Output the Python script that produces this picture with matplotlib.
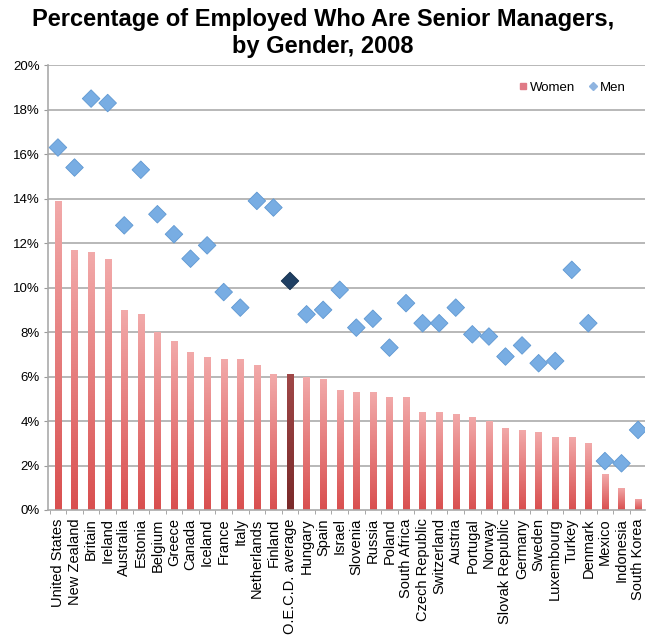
import numpy as np
import matplotlib
matplotlib.use('Agg')
import matplotlib.pyplot as plt
from matplotlib.ticker import FuncFormatter
from matplotlib.lines import Line2D

plt.rcParams['font.family'] = ['Liberation Sans', 'DejaVu Sans']

countries = ['United States', 'New Zealand', 'Britain', 'Ireland', 'Australia',
             'Estonia', 'Belgium', 'Greece', 'Canada', 'Iceland', 'France',
             'Italy', 'Netherlands', 'Finland', 'O.E.C.D. average', 'Hungary',
             'Spain', 'Israel', 'Slovenia', 'Russia', 'Poland', 'South Africa',
             'Czech Republic', 'Switzerland', 'Austria', 'Portugal', 'Norway',
             'Slovak Republic', 'Germany', 'Sweden', 'Luxembourg', 'Turkey',
             'Denmark', 'Mexico', 'Indonesia', 'South Korea']
women = [13.9, 11.7, 11.6, 11.3, 9.0, 8.8, 8.0, 7.6, 7.1, 6.9, 6.8,
         6.8, 6.5, 6.1, 6.1, 6.0,
         5.9, 5.4, 5.3, 5.3, 5.1, 5.1,
         4.4, 4.4, 4.3, 4.2, 4.0,
         3.7, 3.6, 3.5, 3.3, 3.3,
         3.0, 1.6, 1.0, 0.5]
men = [16.3, 15.4, 18.5, 18.3, 12.8, 15.3, 13.3, 12.4, 11.3, 11.9, 9.8,
       9.1, 13.9, 13.6, 10.3, 8.8,
       9.0, 9.9, 8.2, 8.6, 7.3, 9.3,
       8.4, 8.4, 9.1, 7.9, 7.8,
       6.9, 7.4, 6.6, 6.7, 10.8,
       8.4, 2.2, 2.1, 3.6]
highlight = 'O.E.C.D. average'

x = np.arange(len(countries))
hi = countries.index(highlight)

fig = plt.figure(figsize=(6.46, 6.39), dpi=100)
ax = fig.add_axes([0.0743, 0.2019, 0.9237, 0.696])

# gridlines
for g in range(2, 21, 2):
    ax.axhline(g, color='#b8b8b8', lw=1.4, zorder=0)

# bars with a vertical gradient
grad = np.linspace(0, 1, 256).reshape(-1, 1)
cmap_w = matplotlib.colors.LinearSegmentedColormap.from_list('w', ['#d94f4f', '#f2aaaa'])
cmap_o = matplotlib.colors.LinearSegmentedColormap.from_list('o', ['#7a2a2a', '#a04848'])
bw = 0.38
bars = ax.bar(x, women, width=bw, color='#e88080', zorder=2)
for i, b in enumerate(bars):
    cm = cmap_o if i == hi else cmap_w
    im = ax.imshow(grad, cmap=cm, aspect='auto', origin='lower',
                   extent=(x[i] - bw / 2, x[i] + bw / 2, 0, women[i]), zorder=2.1)
    im.set_clip_path(b)

# men diamonds
men_c = ['#1f3f63' if i == hi else '#78ade3' for i in x]
edge_c = ['#15304d' if i == hi else '#5f98d2' for i in x]
ax.scatter(x, men, marker='D', s=80, c=men_c, edgecolors=edge_c, linewidths=0.6, zorder=3)

ax.set_xlim(-0.6, len(countries) - 0.6)
ax.set_ylim(0, 20)
ax.set_yticks(range(0, 21, 2))
ax.yaxis.set_major_formatter(FuncFormatter(lambda v, p: f'{int(v)}%'))
ax.set_xticks(x)
ax.set_xticklabels(countries, rotation=90, fontsize=10.5)
ax.set_xticks(x - 0.5, minor=True)
ax.tick_params(axis='x', which='major', length=0, pad=6)
ax.tick_params(axis='x', which='minor', length=3, color='#999999')
ax.tick_params(axis='y', length=3, color='#999999', labelsize=9.5, pad=3)

for s in ['top', 'right']:
    ax.spines[s].set_visible(False)
for s in ['left', 'bottom']:
    ax.spines[s].set_color('#aaaaaa')
    ax.spines[s].set_linewidth(1.2)

handles = [Line2D([], [], marker='s', ls='', color='#e07a86', markersize=4.5),
           Line2D([], [], marker='D', ls='', color='#8fb4e0', markersize=4)]
ax.legend(handles, ['Women', 'Men'], loc='upper right', ncol=2, frameon=False,
          fontsize=9.5, handlelength=0.8, handletextpad=0.1, columnspacing=1.0,
          bbox_to_anchor=(0.988, 0.99))

fig.suptitle('Percentage of Employed Who Are Senior Managers,\nby Gender, 2008',
             fontsize=17, fontweight='bold', y=0.987, linespacing=1.2)

fig.savefig('out.png', dpi=100)
